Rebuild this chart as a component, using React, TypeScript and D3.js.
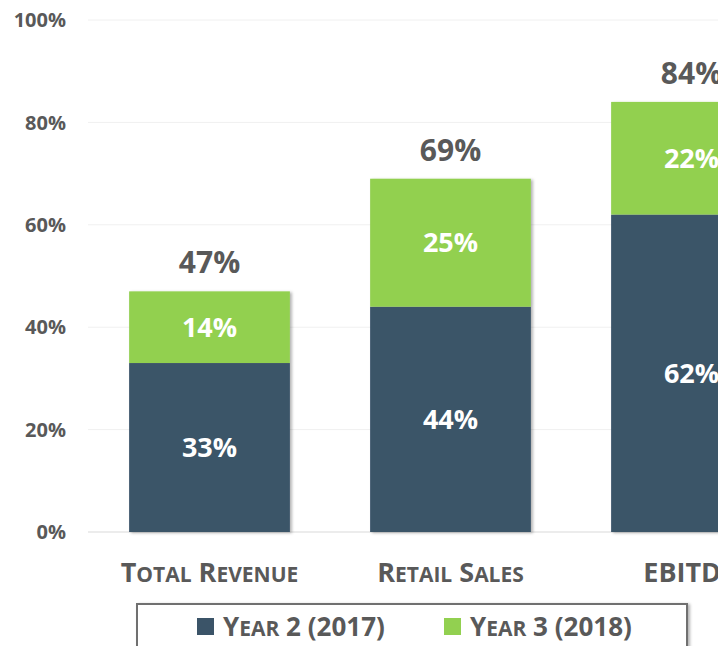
import React, { useEffect, useRef } from 'react';
import * as d3 from 'd3';

const categories = ['Total Revenue', 'Retail Sales', 'EBITDA'];
const year2Values = [33, 44, 62];
const year3Values = [14, 25, 22];
const seriesNames = ['Year 2 (2017)', 'Year 3 (2018)'];
const yTicks = [0, 20, 40, 60, 80, 100];

const DARK = '#3b5468';
const GREEN = '#92d050';
const TEXT = '#595959';
const FONT = '"Open Sans", sans-serif';

// fake small caps: capitals at big size, lowercase uppercased at small size
const smallCaps = (sel: any, text: string, big: number, small: number) => {
    const runs = text.match(/[a-z]+|[^a-z]+/g) || [];
    runs.forEach(r => {
        const lower = /[a-z]/.test(r);
        sel.append('tspan')
            .attr('font-size', lower ? small : big)
            .text(lower ? r.toUpperCase() : r);
    });
};

const App = () => {
    const svgRef = useRef<SVGSVGElement>(null);

    useEffect(() => {
        const svg = d3.select(svgRef.current);
        svg.selectAll('*').remove();

        const defs = svg.append('defs');
        const f = defs.append('filter').attr('id', 'shadow').attr('x', '-10%').attr('y', '-10%').attr('width', '130%').attr('height', '130%');
        f.append('feDropShadow').attr('dx', 2).attr('dy', 1).attr('stdDeviation', 1.5).attr('flood-color', '#000').attr('flood-opacity', 0.3);

        // the plot runs past the right edge, like the cropped source
        const x = d3.scaleBand().domain(categories).range([89, 812]).paddingInner(0.333).paddingOuter(0.1665);
        const y = d3.scaleLinear().domain([0, 100]).range([532, 20]);

        const g = svg.append('g');

        // gridlines
        g.selectAll('.grid')
            .data(yTicks)
            .enter()
            .append('line')
            .attr('x1', 88)
            .attr('x2', 718)
            .attr('y1', d => y(d))
            .attr('y2', d => y(d))
            .attr('stroke', d => (d === 0 ? '#d9d9d9' : '#f0f0f0'))
            .attr('stroke-width', 1);

        // y labels
        g.selectAll('.ylab')
            .data(yTicks)
            .enter()
            .append('text')
            .attr('x', 66)
            .attr('y', d => y(d))
            .attr('dy', '0.36em')
            .attr('text-anchor', 'end')
            .attr('font-family', FONT)
            .attr('font-weight', 700)
            .attr('font-size', 20)
            .attr('fill', TEXT)
            .text(d => `${d}%`);

        const rows = categories.map((c, i) => ({ c, a: year2Values[i], b: year3Values[i] }));

        const bars = g.selectAll('.bar').data(rows).enter().append('g').attr('filter', 'url(#shadow)');
        bars.append('rect')
            .attr('x', d => x(d.c)!)
            .attr('width', x.bandwidth())
            .attr('y', d => y(d.a))
            .attr('height', d => y(0) - y(d.a))
            .attr('fill', DARK);
        bars.append('rect')
            .attr('x', d => x(d.c)!)
            .attr('width', x.bandwidth())
            .attr('y', d => y(d.a + d.b))
            .attr('height', d => y(d.a) - y(d.a + d.b))
            .attr('fill', GREEN);

        const cx = (d: { c: string }) => x(d.c)! + x.bandwidth() / 2;

        // segment labels
        g.selectAll('.la').data(rows).enter().append('text')
            .attr('x', cx)
            .attr('y', d => (y(0) + y(d.a)) / 2)
            .attr('dy', '0.36em')
            .attr('text-anchor', 'middle')
            .attr('font-family', FONT).attr('font-weight', 700).attr('font-size', 27)
            .attr('fill', '#fff')
            .text(d => `${d.a}%`);
        g.selectAll('.lb').data(rows).enter().append('text')
            .attr('x', cx)
            .attr('y', d => (y(d.a) + y(d.a + d.b)) / 2)
            .attr('dy', '0.36em')
            .attr('text-anchor', 'middle')
            .attr('font-family', FONT).attr('font-weight', 700).attr('font-size', 27)
            .attr('fill', '#fff')
            .text(d => `${d.b}%`);

        // totals
        g.selectAll('.tot').data(rows).enter().append('text')
            .attr('x', cx)
            .attr('y', d => y(d.a + d.b) - 18)
            .attr('text-anchor', 'middle')
            .attr('font-family', FONT).attr('font-weight', 700).attr('font-size', 30)
            .attr('fill', TEXT)
            .text(d => `${d.a + d.b}%`);

        // category labels
        g.selectAll('.cat').data(categories).enter().append('text')
            .attr('x', d => x(d)! + x.bandwidth() / 2)
            .attr('y', 582)
            .attr('text-anchor', 'middle')
            .attr('font-family', FONT).attr('font-weight', 700)
            .attr('fill', TEXT)
            .each(function (d) { smallCaps(d3.select(this), d, 27, 21); });

        // legend
        const lg = svg.append('g');
        lg.append('rect')
            .attr('x', 137).attr('y', 604).attr('width', 550).attr('height', 60)
            .attr('fill', '#fff').attr('stroke', '#6f6f6f').attr('stroke-width', 2)
            .attr('filter', 'url(#shadow)');
        const legendX = [197, 444];
        const colors = [DARK, GREEN];
        seriesNames.forEach((s, i) => {
            lg.append('rect').attr('x', legendX[i]).attr('y', 618).attr('width', 17).attr('height', 17).attr('fill', colors[i]);
            const t = lg.append('text')
                .attr('x', legendX[i] + 26).attr('y', 636)
                .attr('font-family', FONT).attr('font-weight', 700)
                .attr('fill', TEXT);
            smallCaps(t, s, 26, 21);
        });
    }, []);

    return (
        <svg
            ref={svgRef}
            width={718}
            height={646}
            style={{ position: 'absolute', left: 0, top: 0, display: 'block', background: '#fff' }}
        />
    );
};

export default App;
